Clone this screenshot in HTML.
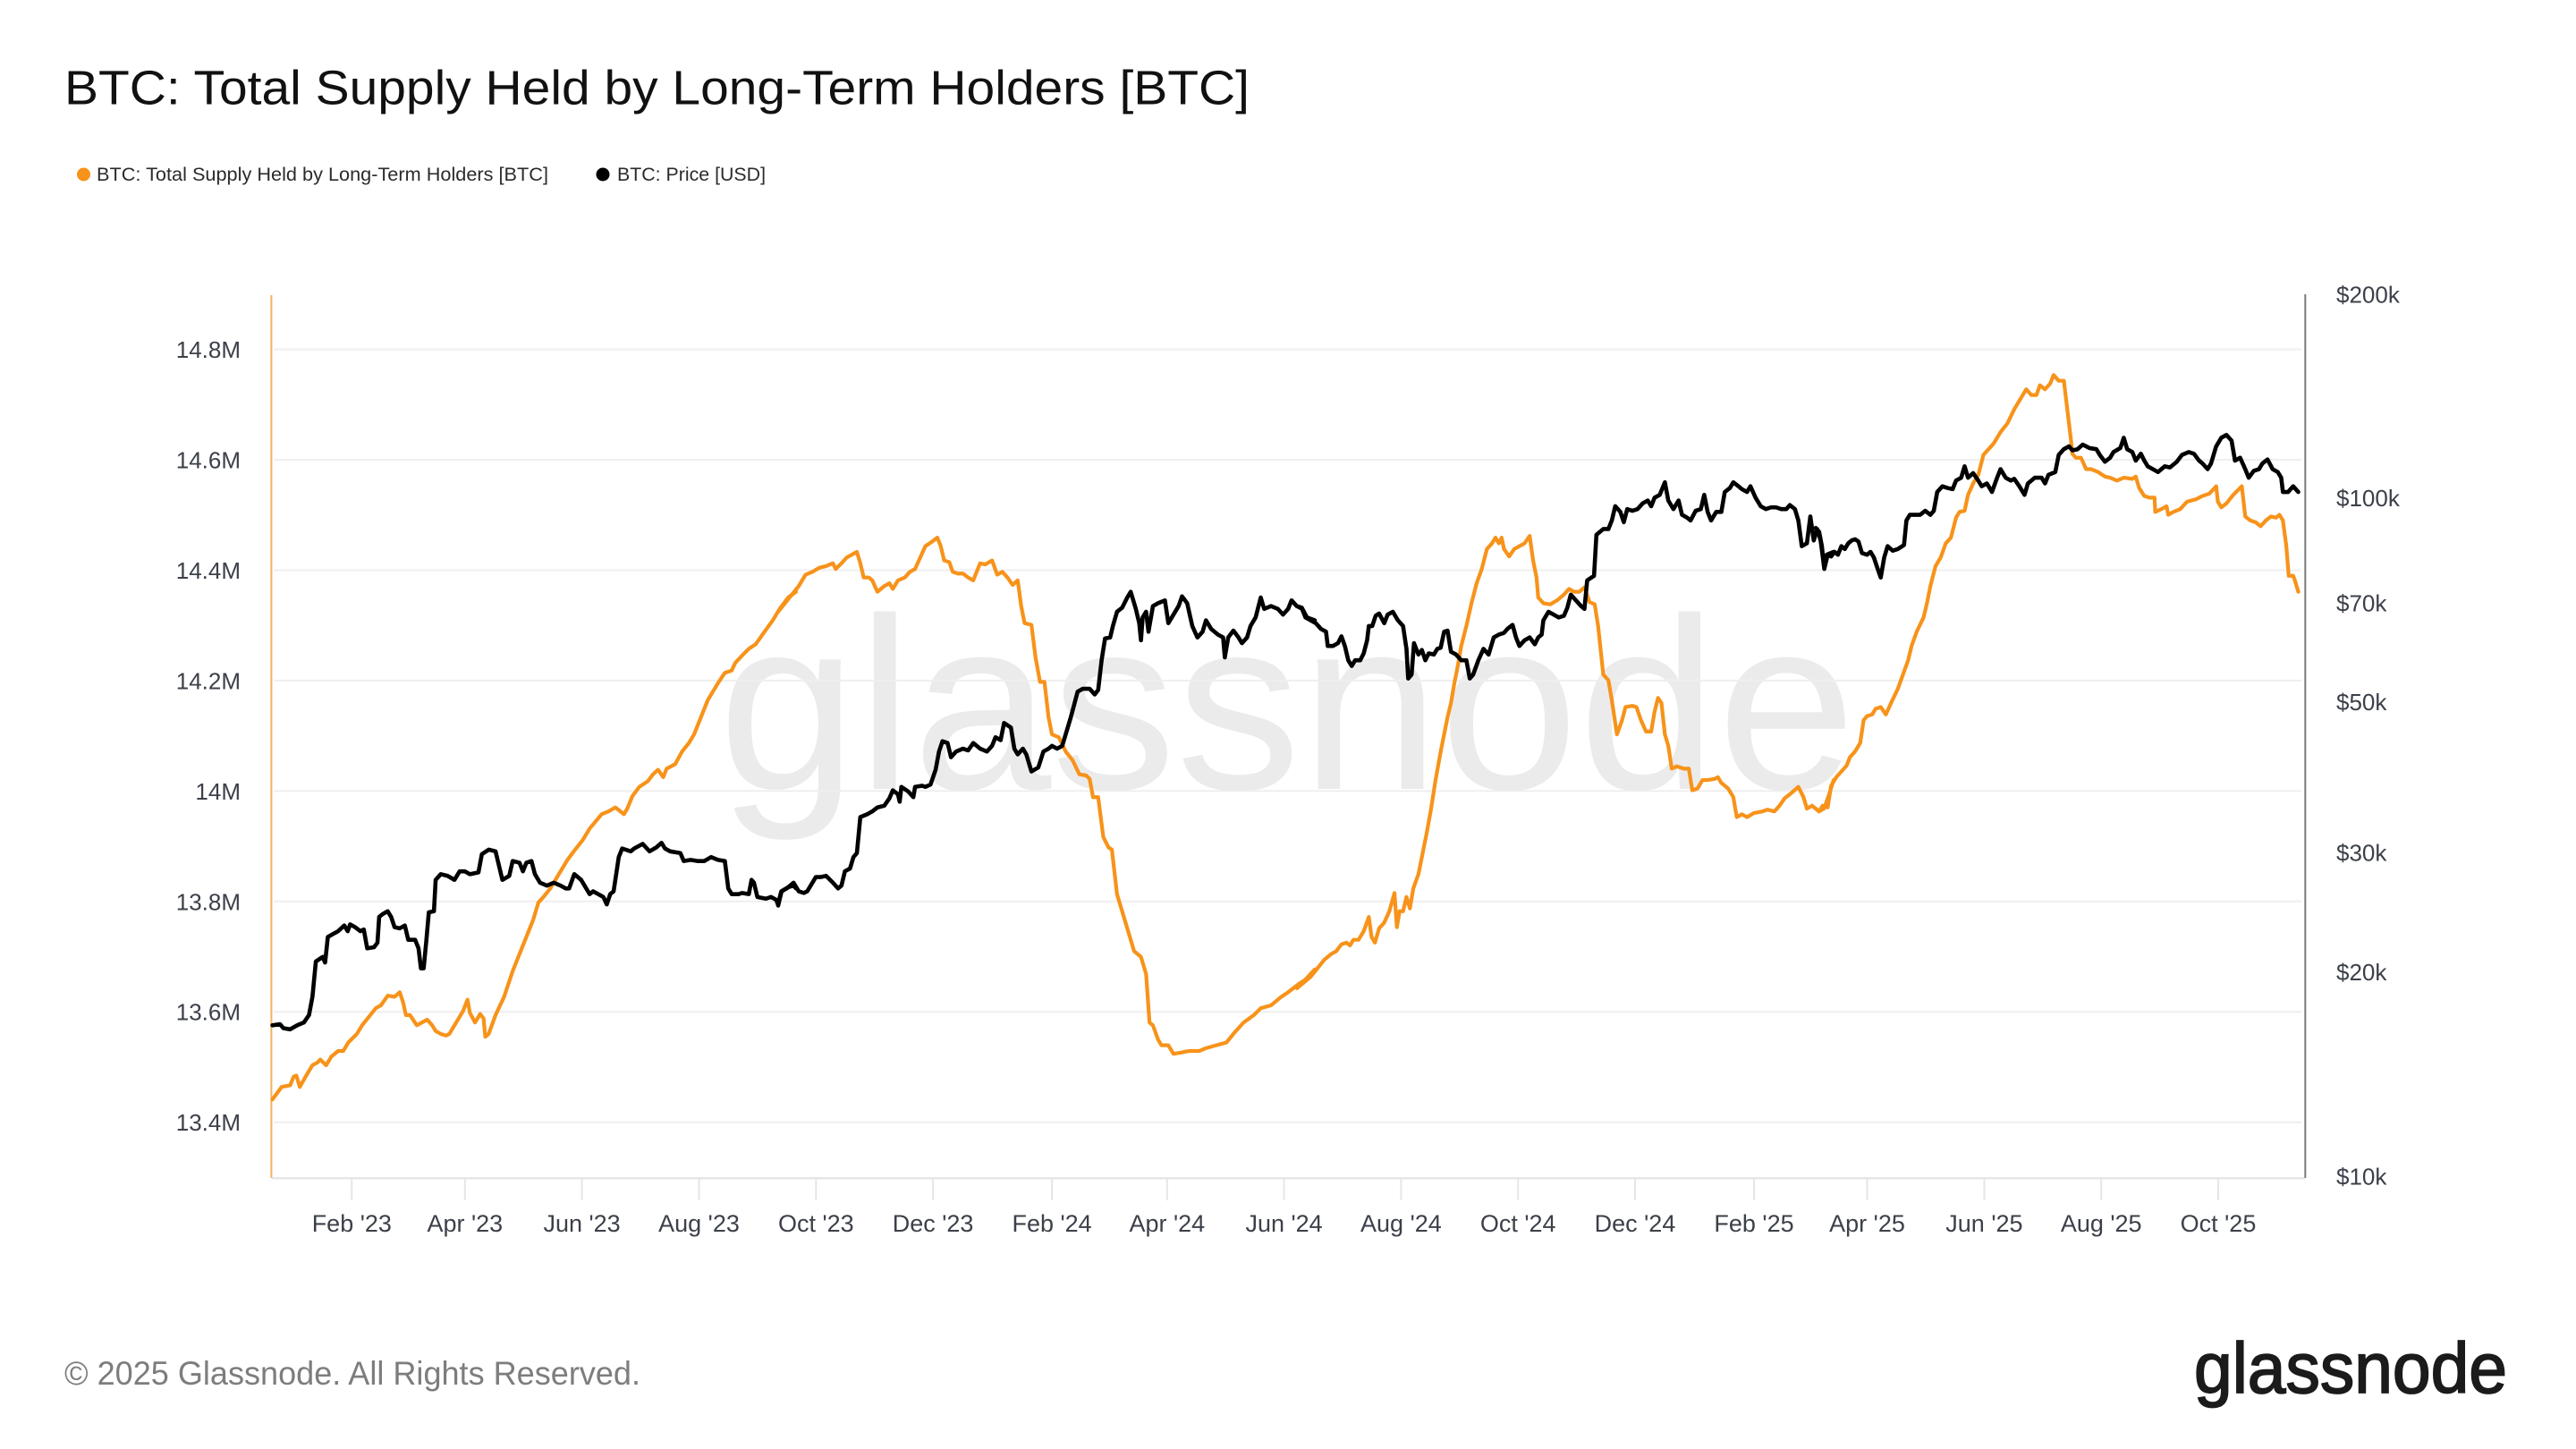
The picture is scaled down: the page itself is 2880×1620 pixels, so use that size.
<!DOCTYPE html>
<html>
<head>
<meta charset="utf-8">
<style>
  html, body { margin:0; padding:0; background:#ffffff; }
  svg { display:block; }
  text { font-family: "Liberation Sans", Arial, sans-serif; }
</style>
</head>
<body>
<svg width="2880" height="1620" viewBox="0 0 2880 1620" xmlns="http://www.w3.org/2000/svg">
  <rect x="0" y="0" width="2880" height="1620" fill="#ffffff"/>

  <!-- Title -->
  <text x="72" y="116.5" font-size="54" fill="#111111" textLength="1325" lengthAdjust="spacingAndGlyphs">BTC: Total Supply Held by Long-Term Holders [BTC]</text>

  <!-- Legend -->
  <circle cx="93.5" cy="195" r="7.5" fill="#f7931a"/>
  <text x="108" y="202" font-size="21.5" fill="#2b2b2b" textLength="505" lengthAdjust="spacingAndGlyphs">BTC: Total Supply Held by Long-Term Holders [BTC]</text>
  <circle cx="674" cy="195" r="7.5" fill="#000000"/>
  <text x="690" y="202" font-size="21.5" fill="#2b2b2b" textLength="166" lengthAdjust="spacingAndGlyphs">BTC: Price [USD]</text>

  <!-- Watermark -->
  <text x="803" y="882" font-size="274" fill="#ebebeb" textLength="1272" lengthAdjust="spacingAndGlyphs">glassnode</text>

  <!-- Gridlines -->
  <g stroke="#efefef" stroke-width="2">
    <line x1="306" y1="390.6" x2="2573" y2="390.6"/>
    <line x1="306" y1="514.0" x2="2573" y2="514.0"/>
    <line x1="306" y1="637.5" x2="2573" y2="637.5"/>
    <line x1="306" y1="760.9" x2="2573" y2="760.9"/>
    <line x1="306" y1="884.4" x2="2573" y2="884.4"/>
    <line x1="306" y1="1007.8" x2="2573" y2="1007.8"/>
    <line x1="306" y1="1131.2" x2="2573" y2="1131.2"/>
    <line x1="306" y1="1254.7" x2="2573" y2="1254.7"/>
  </g>

  <!-- Bottom axis line & ticks -->
  <line x1="304" y1="1317.3" x2="2577" y2="1317.3" stroke="#e6e6e6" stroke-width="2.5"/>
  <g stroke="#e6e6e6" stroke-width="2">
    <line x1="393.3" y1="1317" x2="393.3" y2="1342"/>
    <line x1="519.8" y1="1317" x2="519.8" y2="1342"/>
    <line x1="650.6" y1="1317" x2="650.6" y2="1342"/>
    <line x1="781.5" y1="1317" x2="781.5" y2="1342"/>
    <line x1="912.3" y1="1317" x2="912.3" y2="1342"/>
    <line x1="1043.1" y1="1317" x2="1043.1" y2="1342"/>
    <line x1="1176.1" y1="1317" x2="1176.1" y2="1342"/>
    <line x1="1304.8" y1="1317" x2="1304.8" y2="1342"/>
    <line x1="1435.6" y1="1317" x2="1435.6" y2="1342"/>
    <line x1="1566.4" y1="1317" x2="1566.4" y2="1342"/>
    <line x1="1697.2" y1="1317" x2="1697.2" y2="1342"/>
    <line x1="1828.0" y1="1317" x2="1828.0" y2="1342"/>
    <line x1="1961.0" y1="1317" x2="1961.0" y2="1342"/>
    <line x1="2087.5" y1="1317" x2="2087.5" y2="1342"/>
    <line x1="2218.4" y1="1317" x2="2218.4" y2="1342"/>
    <line x1="2349.2" y1="1317" x2="2349.2" y2="1342"/>
    <line x1="2480.0" y1="1317" x2="2480.0" y2="1342"/>
  </g>

  <!-- Left axis line (orange) -->
  <line x1="303.4" y1="330" x2="303.4" y2="1317" stroke="#f5b15e" stroke-width="2"/>
  <!-- Right axis line -->
  <line x1="2577.3" y1="329" x2="2577.3" y2="1317" stroke="#7a7a7a" stroke-width="2"/>

  <!-- Left axis labels -->
  <g font-size="26" fill="#3c4049" text-anchor="end">
    <text x="269" y="400">14.8M</text>
    <text x="269" y="523.5">14.6M</text>
    <text x="269" y="647">14.4M</text>
    <text x="269" y="770.5">14.2M</text>
    <text x="269" y="894">14M</text>
    <text x="269" y="1017.3">13.8M</text>
    <text x="269" y="1140.7">13.6M</text>
    <text x="269" y="1264.2">13.4M</text>
  </g>

  <!-- Right axis labels -->
  <g font-size="26" fill="#3c4049">
    <text x="2612" y="338.5">$200k</text>
    <text x="2612" y="566">$100k</text>
    <text x="2612" y="683.5">$70k</text>
    <text x="2612" y="794">$50k</text>
    <text x="2612" y="962.5">$30k</text>
    <text x="2612" y="1096">$20k</text>
    <text x="2612" y="1324.5">$10k</text>
  </g>

  <!-- X axis labels -->
  <g font-size="27" fill="#3c4049" text-anchor="middle">
    <text x="393.3" y="1377">Feb &#39;23</text>
    <text x="519.8" y="1377">Apr &#39;23</text>
    <text x="650.6" y="1377">Jun &#39;23</text>
    <text x="781.5" y="1377">Aug &#39;23</text>
    <text x="912.3" y="1377">Oct &#39;23</text>
    <text x="1043.1" y="1377">Dec &#39;23</text>
    <text x="1176.1" y="1377">Feb &#39;24</text>
    <text x="1304.8" y="1377">Apr &#39;24</text>
    <text x="1435.6" y="1377">Jun &#39;24</text>
    <text x="1566.4" y="1377">Aug &#39;24</text>
    <text x="1697.2" y="1377">Oct &#39;24</text>
    <text x="1828.0" y="1377">Dec &#39;24</text>
    <text x="1961.0" y="1377">Feb &#39;25</text>
    <text x="2087.5" y="1377">Apr &#39;25</text>
    <text x="2218.4" y="1377">Jun &#39;25</text>
    <text x="2349.2" y="1377">Aug &#39;25</text>
    <text x="2480.0" y="1377">Oct &#39;25</text>
  </g>

  <!-- Series: orange (LTH supply) -->
  <g fill="none" stroke="#f7931a" stroke-width="4.2" stroke-linejoin="round" stroke-linecap="round">
    <g transform="translate(290,330) scale(0.38265,0.63776)">
      <polyline vector-effect="non-scaling-stroke" points="38,1410 65,1388 90,1385 100,1370 108,1368 118,1388 135,1370 155,1350 170,1345 178,1340 195,1350 210,1335 230,1325 245,1325 260,1310 285,1295 300,1280 320,1265 340,1250 355,1245 375,1228 395,1230 410,1222 420,1240 428,1262 440,1262 460,1280 475,1275 490,1270 505,1280 515,1290 530,1295 545,1298 555,1295 575,1275 595,1255 608,1235 615,1258 630,1275 645,1260 655,1268 660,1300 670,1295 690,1262 715,1230 740,1185 770,1140 800,1095 815,1065 830,1055 850,1040 875,1015 900,990 925,970 945,955 965,935 1000,910 1020,905 1040,898 1055,905 1065,910 1075,900 1090,878 1110,862 1135,852 1150,840 1165,832 1180,845 1190,830 1215,822 1235,800 1255,785 1270,770 1290,740 1310,710 1340,680 1360,662 1380,658 1390,645 1410,632 1430,620 1450,612 1470,595 1500,570 1520,550 1545,530 1568,520"/>
    </g>
    <g transform="translate(870,330) scale(0.38265,0.63776)">
      <polyline vector-effect="non-scaling-stroke" points="0,555 20,540 40,525 60,510 80,490 100,485 120,478 140,475 160,470 168,480 185,470 200,460 215,455 230,450 240,470 250,495 265,495 275,500 290,520 310,510 325,505 335,515 350,500 370,495 385,485 400,480 415,460 430,440 450,432 465,425 475,440 485,465 500,468 510,485 525,488 540,488 555,495 570,500 590,470 605,472 625,465 640,490 655,485 670,495 685,508 700,500 710,545 720,575 740,578 752,635 765,678 778,678 790,740 800,770 820,775 840,800 860,815 880,840 900,842 910,848 920,880 935,880 950,950 965,968 975,972 990,1050 1005,1080 1020,1110 1040,1150 1060,1160 1075,1190 1085,1275 1095,1280 1110,1305 1120,1315 1140,1315 1155,1330 1175,1328 1200,1325 1230,1325 1250,1320 1280,1315 1310,1310 1330,1295 1360,1275 1390,1262 1410,1250 1440,1245 1470,1230 1490,1222 1520,1208 1540,1200 1568,1182"/>
    </g>
    <g transform="translate(1450,330) scale(0.38265,0.63776)">
      <polyline vector-effect="non-scaling-stroke" points="0,1215 20,1205 40,1195 60,1180 80,1165 100,1155 115,1150 130,1138 145,1135 155,1140 165,1130 180,1130 195,1115 210,1090 218,1125 228,1135 240,1110 255,1100 270,1080 285,1048 292,1108 300,1080 310,1080 320,1055 330,1075 340,1040 355,1015 365,985 380,940 392,900 405,850 420,800 430,770 440,740 450,715 460,680 470,650 480,615 495,580 510,540 525,505 540,480 555,445 570,435 580,425 590,435 598,425 605,445 620,458 635,445 650,440 665,435 680,422 690,465 700,495 705,530 720,540 740,542 760,535 780,525 795,515 810,520 825,520 840,512 855,538 870,542 880,580 895,665 910,675 920,710 935,770 950,745 960,722 980,720 992,722 1005,745 1020,765 1035,765 1045,730 1055,706 1065,715 1075,770 1085,790 1095,830 1110,826 1130,830 1145,830 1155,868 1170,865 1185,850 1200,850 1220,848 1230,845 1240,855 1260,865 1275,880 1285,915 1300,910 1315,915 1335,908 1360,905 1375,902 1395,905 1410,895 1425,882 1440,875 1465,862 1480,880 1490,900 1505,895 1525,905 1540,900 1555,875 1568,850"/>
    </g>
    <g transform="translate(2030,330) scale(0.38265,0.63776)">
      <polyline vector-effect="non-scaling-stroke" points="0,900 10,905 20,895 35,898 45,860 60,845 75,835 90,825 100,810 115,800 130,785 140,745 150,738 165,735 175,725 190,722 205,735 220,715 240,690 255,665 270,640 280,615 295,590 315,565 325,540 335,510 350,475 365,460 380,435 395,425 410,390 420,380 435,378 445,350 460,330 475,315 490,280 505,270 520,260 540,240 560,225 580,200 600,180 615,165 630,175 645,175 655,158 670,165 685,155 695,140 710,150 725,150 735,200 745,250 750,278 760,285 775,285 790,305 805,305 825,310 845,318 860,320 880,325 900,320 925,322 935,318 945,338 960,352 975,355 990,355 992,380 1010,375 1025,370 1030,385 1045,380 1065,375 1085,362 1110,358 1130,352 1150,348 1170,335 1175,362 1185,372 1200,365 1220,350 1245,335 1255,388 1270,395 1285,398 1300,405 1315,395 1330,388 1345,390 1355,385 1365,395 1375,440 1382,492 1395,492 1400,500 1410,520"/>
    </g>
  </g>

  <!-- Series: black (price) -->
  <g fill="none" stroke="#000000" stroke-width="4.6" stroke-linejoin="round" stroke-linecap="round">
    <g transform="translate(290,330) scale(0.38265,0.63776)">
      <polyline vector-effect="non-scaling-stroke" points="38,1280 60,1278 70,1285 90,1287 110,1280 130,1275 145,1262 155,1230 165,1168 185,1160 192,1170 200,1125 215,1120 230,1115 248,1105 258,1115 265,1103 280,1108 295,1115 305,1112 315,1145 335,1143 345,1135 350,1090 360,1085 375,1080 385,1090 395,1108 410,1110 425,1105 435,1130 455,1130 465,1145 472,1180 480,1180 488,1130 495,1082 510,1080 515,1025 530,1015 550,1018 570,1025 585,1010 600,1010 615,1015 640,1012 650,980 670,972 690,975 700,1000 710,1025 730,1018 740,992 760,995 770,1010 780,995 795,992 805,1015 820,1030 840,1035 860,1030 880,1035 895,1040 905,1040 920,1015 940,1025 965,1050 975,1045 990,1050 1005,1055 1015,1068 1025,1050 1035,1045 1050,985 1060,970 1085,975 1095,970 1120,962 1140,975 1160,968 1175,960 1185,970 1200,975 1230,978 1240,992 1260,990 1280,992 1300,992 1320,985 1340,990 1360,992 1370,1040 1380,1050 1400,1050 1410,1048 1430,1050 1438,1025 1445,1030 1455,1055 1480,1058 1495,1055 1510,1060 1515,1068 1525,1045 1545,1038 1560,1035 1568,1040"/>
    </g>
    <g transform="translate(870,330) scale(0.38265,0.63776)">
      <polyline vector-effect="non-scaling-stroke" points="0,1070 10,1045 25,1040 45,1030 60,1045 75,1048 85,1045 100,1030 110,1020 125,1020 140,1018 160,1030 175,1040 185,1035 195,1010 210,1005 220,985 230,978 240,915 260,910 275,905 290,898 310,895 325,882 335,868 350,875 355,888 360,862 380,870 395,880 400,862 420,860 430,862 445,858 460,832 470,800 480,782 495,785 505,810 520,800 540,795 555,798 570,785 590,795 610,800 625,790 635,775 650,780 660,750 680,758 690,795 700,805 715,795 725,805 740,835 760,828 775,800 790,795 800,790 815,795 830,790 840,770 855,740 875,695 890,690 910,690 925,700 935,692 945,640 955,602 970,600 978,580 990,555 1005,548 1020,530 1030,520 1045,550 1055,575 1060,605 1065,565 1075,555 1082,590 1095,545 1110,540 1130,535 1140,575 1155,560 1170,545 1180,528 1195,540 1210,580 1225,600 1240,590 1250,570 1265,585 1285,595 1300,600 1305,635 1315,600 1330,588 1345,600 1355,610 1370,600 1380,580 1395,565 1410,530 1420,550 1440,545 1460,550 1475,560 1490,550 1500,535 1515,545 1530,548 1545,565 1568,570"/>
    </g>
    <g transform="translate(1450,330) scale(0.38265,0.63776)">
      <polyline vector-effect="non-scaling-stroke" points="0,545 15,550 25,565 40,570 55,575 70,585 85,590 90,615 105,615 120,610 130,598 140,615 150,640 160,650 170,640 185,640 195,628 205,605 210,580 220,580 230,562 240,558 255,575 265,560 280,555 295,570 310,580 320,620 325,672 335,665 342,610 355,630 365,622 375,640 385,628 400,630 410,620 420,618 430,590 440,588 450,625 465,630 480,640 495,640 505,672 515,665 530,640 545,620 560,630 575,600 590,595 605,592 615,585 630,578 640,600 650,615 665,605 680,600 695,612 705,600 715,595 720,570 735,555 750,560 765,565 780,562 790,548 800,525 815,535 830,545 840,550 848,500 868,492 875,420 895,410 910,410 920,395 930,370 945,380 955,398 965,375 980,378 995,375 1010,365 1025,360 1035,370 1045,355 1060,350 1075,328 1085,360 1100,375 1115,360 1125,385 1140,390 1150,395 1165,378 1180,375 1190,350 1200,380 1210,395 1225,380 1240,380 1250,345 1265,338 1275,328 1290,335 1300,340 1315,345 1325,335 1340,355 1355,370 1370,375 1385,372 1400,372 1415,375 1430,375 1440,368 1455,375 1465,395 1475,440 1490,435 1500,388 1510,430 1520,410 1530,430 1540,475 1548,455 1568,450"/>
    </g>
    <g transform="translate(2030,330) scale(0.38265,0.63776)">
      <polyline vector-effect="non-scaling-stroke" points="0,408 10,415 18,440 25,480 35,455 45,458 55,450 65,455 75,440 85,445 95,435 105,430 115,428 125,432 135,452 150,455 160,450 170,460 180,478 190,495 200,460 210,440 225,448 240,445 258,438 265,395 275,385 290,385 305,385 320,378 335,385 345,378 355,345 370,335 385,338 400,340 410,325 425,320 435,300 445,320 460,312 475,325 485,335 500,330 515,345 530,320 540,305 555,320 570,325 580,322 595,335 610,350 620,330 640,320 660,320 670,330 680,315 700,310 710,280 725,270 740,265 750,272 765,270 780,262 800,268 820,270 830,280 845,292 860,285 870,275 890,268 900,250 910,270 925,275 935,290 950,278 960,290 970,300 985,305 1000,310 1020,300 1035,302 1055,292 1070,280 1090,275 1105,278 1120,290 1130,295 1145,305 1155,295 1170,265 1185,250 1200,245 1215,255 1225,290 1240,285 1255,305 1265,320 1280,308 1295,305 1305,295 1320,288 1335,305 1350,310 1360,320 1365,345 1380,345 1395,335 1410,345"/>
    </g>
  </g>

  <!-- Footer -->
  <text x="72" y="1548" font-size="37" fill="#7d7d7d" textLength="644" lengthAdjust="spacingAndGlyphs">© 2025 Glassnode. All Rights Reserved.</text>

  <!-- Logo -->
  <text x="2453" y="1557" font-size="80" fill="#1b1b1b" stroke="#1b1b1b" stroke-width="1.8" textLength="350" lengthAdjust="spacingAndGlyphs">glassnode</text>
</svg>
</body>
</html>
